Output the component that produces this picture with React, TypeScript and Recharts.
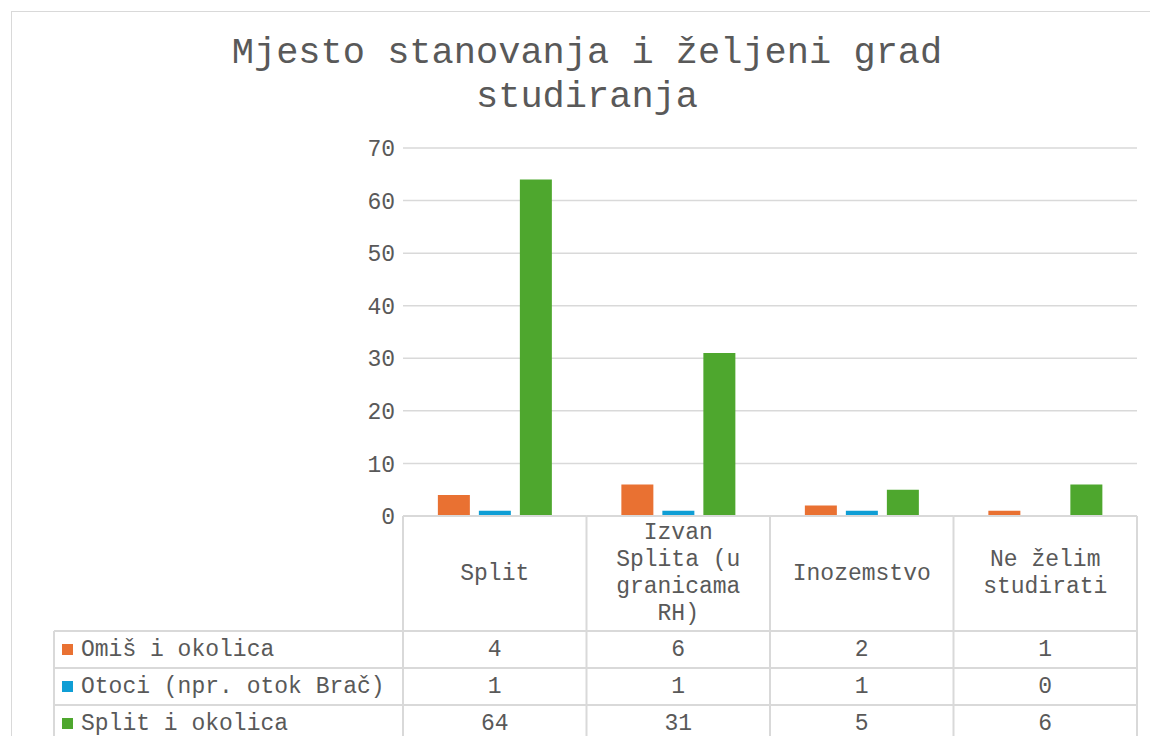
import React from 'react';
import { BarChart, Bar, XAxis, YAxis, CartesianGrid } from 'recharts';

// header row of the data table, already wrapped the way Excel shows it
const categories = ['Split', 'Izvan Splita (u granicama RH)', 'Inozemstvo', 'Ne želim studirati'];
const categoryLines = [['Split'], ['Izvan', 'Splita (u', 'granicama', 'RH)'], ['Inozemstvo'], ['Ne želim', 'studirati']];

const seriesNames = ['Omiš i okolica', 'Otoci (npr. otok Brač)', 'Split i okolica'];
const omisValues = [4, 6, 2, 1];
const otociValues = [1, 1, 1, 0];
const splitValues = [64, 31, 5, 6];
const seriesColors = ['#E97132', '#0F9ED5', '#4EA72E'];

const yTicks = [0, 10, 20, 30, 40, 50, 60, 70];

const FONT = '"Liberation Mono", "Courier New", monospace';
const TEXT = '#595959';
const LINE = '#D9D9D9';

const W = 1146;
const H = 732;
const margin = { top: 136, right: 21, left: 0, bottom: 0 };
const Y_AXIS_W = 391;
const X_AXIS_H = 228;
const plotW = W - Y_AXIS_W - margin.right;
const bandW = plotW / categories.length;
const HEADER_H = 115;
const ROW_H = 37;
const LEGEND_LEFT = 42;

const data = categories.map((c, i) => ({
  name: c,
  omis: omisValues[i],
  otoci: otociValues[i],
  split: splitValues[i],
}));
const seriesValues = [omisValues, otociValues, splitValues];

function TableColumn(props: any) {
  const { x, y, index } = props;
  const left = x - bandW / 2;
  const right = x + bandW / 2;
  const bottom = y + HEADER_H + ROW_H * 3;
  const lines = categoryLines[index];
  const lh = 27;
  const headMid = y + HEADER_H / 2;
  return (
    <g fontFamily={FONT} fontSize={23} fill={TEXT}>
      <line x1={left} x2={right} y1={y} y2={y} stroke={LINE} strokeWidth={2} />
      {index === 0 && <line x1={left} x2={left} y1={y} y2={bottom} stroke={LINE} strokeWidth={2} />}
      <line x1={right} x2={right} y1={y} y2={bottom} stroke={LINE} strokeWidth={2} />
      {lines.map((t, k) => (
        <text key={k} x={x} y={headMid + (k - (lines.length - 1) / 2) * lh} textAnchor="middle" dominantBaseline="central">
          {t}
        </text>
      ))}
      {seriesValues.map((vals, r) => {
        const top = y + HEADER_H + ROW_H * r;
        return (
          <g key={r}>
            <line
              x1={index === 0 ? LEGEND_LEFT : left}
              x2={right}
              y1={top}
              y2={top}
              stroke={LINE}
              strokeWidth={2}
            />
            <text x={x} y={top + ROW_H / 2} textAnchor="middle" dominantBaseline="central">
              {vals[index]}
            </text>
            {index === 0 && (
              <g>
                <rect x={LEGEND_LEFT + 8} y={top + ROW_H / 2 - 5.5} width={11} height={11} fill={seriesColors[r]} />
                <text x={LEGEND_LEFT + 27} y={top + ROW_H / 2} dominantBaseline="central">
                  {seriesNames[r]}
                </text>
              </g>
            )}
          </g>
        );
      })}
      <line x1={index === 0 ? LEGEND_LEFT : left} x2={right} y1={bottom} y2={bottom} stroke={LINE} strokeWidth={2} />
      {index === 0 && (
        <line x1={LEGEND_LEFT} x2={LEGEND_LEFT} y1={y + HEADER_H} y2={bottom} stroke={LINE} strokeWidth={2} />
      )}
    </g>
  );
}

export default function App() {
  return (
    <div style={{ position: 'relative', width: 1142, height: 728 }}>
      <div
        style={{
          position: 'absolute',
          left: 3,
          top: 3,
          width: 1147,
          height: 733,
          boxSizing: 'border-box',
          borderLeft: `1px solid ${LINE}`,
          borderTop: `1px solid ${LINE}`,
          background: '#fff',
        }}
      >
        <div
          style={{
            position: 'absolute',
            left: 0,
            width: 1150,
            top: 19,
            textAlign: 'center',
            fontFamily: FONT,
            fontSize: 37,
            lineHeight: '44px',
            color: TEXT,
            whiteSpace: 'pre-line',
          }}
        >
          {'Mjesto stanovanja i željeni grad\nstudiranja'}
        </div>
        <BarChart width={W} height={H} data={data} margin={margin} barCategoryGap="19%" barGap={9}>
          <CartesianGrid vertical={false} stroke={LINE} strokeWidth={1.5} />
          <YAxis
            width={Y_AXIS_W}
            domain={[0, 70]}
            ticks={yTicks}
            axisLine={false}
            tickLine={false}
            tickSize={0}
            tickMargin={8}
            tick={{ fontFamily: FONT, fontSize: 23, fill: TEXT }}
          />
          <XAxis
            dataKey="name"
            height={X_AXIS_H}
            axisLine={false}
            tickLine={false}
            tickSize={0}
            tickMargin={0}
            interval={0}
            tick={<TableColumn />}
          />
          <Bar dataKey="omis" fill={seriesColors[0]} isAnimationActive={false} />
          <Bar dataKey="otoci" fill={seriesColors[1]} isAnimationActive={false} />
          <Bar dataKey="split" fill={seriesColors[2]} isAnimationActive={false} />
        </BarChart>
      </div>
    </div>
  );
}
